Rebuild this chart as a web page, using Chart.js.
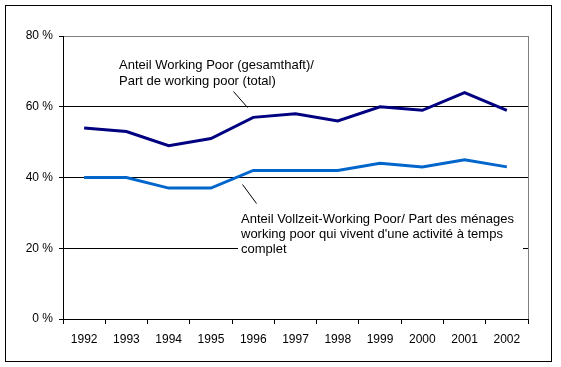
<!DOCTYPE html>
<html>
<head>
<meta charset="utf-8">
<script src="https://cdn.jsdelivr.net/npm/chart.js@4.4.1/dist/chart.umd.min.js"></script>
<style>
  html, body { margin: 0; padding: 0; background: #fff; }
  #wrap { width: 561px; height: 367px; position: relative; }
</style>
</head>
<body>
<div id="wrap"><canvas id="workingPoorChart" width="561" height="367"></canvas></div>
<script>
// Data
const years = ['1992', '1993', '1994', '1995', '1996', '1997', '1998', '1999', '2000', '2001', '2002'];
const workingPoorTotal = [54, 53, 49, 51, 57, 58, 56, 60, 59, 64, 59];
const workingPoorFullTime = [40, 40, 37, 37, 42, 42, 42, 44, 43, 45, 43];
const yTicks = [0, 20, 40, 60, 80];

const labelTotal = ['Anteil Working Poor (gesamthaft)/', 'Part de working poor (total)'];
const labelFullTime = [
  'Anteil Vollzeit-Working Poor/ Part des ménages',
  'working poor qui vivent d\'une activité à temps',
  'complet'
];

const FONT = '"Liberation Sans", Arial, sans-serif';

// outer frame + grey right edge of the plot area
const framePlugin = {
  id: 'frame',
  beforeDraw(chart) {
    const { ctx, width, height } = chart;
    ctx.save();
    ctx.fillStyle = '#fff';
    ctx.fillRect(0, 0, width, height);
    ctx.strokeStyle = '#000';
    ctx.lineWidth = 1;
    ctx.strokeRect(5.5, 5.5, 546, 356);
    ctx.restore();
  },
  beforeDatasetsDraw(chart) {
    const { ctx, chartArea } = chart;
    ctx.save();
    ctx.strokeStyle = '#808080';
    ctx.lineWidth = 1;
    ctx.beginPath();
    ctx.moveTo(Math.round(chartArea.right) + 0.5, chartArea.top);
    ctx.lineTo(Math.round(chartArea.right) + 0.5, chartArea.bottom);
    ctx.stroke();
    ctx.restore();
  }
};

// text callouts with leader lines
const calloutPlugin = {
  id: 'callouts',
  afterDatasetsDraw(chart) {
    const { ctx } = chart;
    ctx.save();
    ctx.strokeStyle = '#000';
    ctx.lineWidth = 1;

    drawLeader(ctx, 233, 91, 247, 107);
    drawLeader(ctx, 242, 184, 256, 203);

    // second label sits on a white box over the 20 % gridline
    ctx.fillStyle = '#fff';
    ctx.fillRect(238, 209, 285, 50);

    ctx.fillStyle = '#000';
    ctx.font = '13px ' + FONT;
    ctx.textBaseline = 'alphabetic';
    ctx.textAlign = 'left';
    labelTotal.forEach((line, i) => ctx.fillText(line, 119, 69 + i * 16));
    labelFullTime.forEach((line, i) => ctx.fillText(line, 241, 223 + i * 15));
    ctx.restore();
  }
};

function drawLeader(ctx, x1, y1, x2, y2) {
  ctx.beginPath();
  ctx.moveTo(x1 + 0.5, y1 + 0.5);
  ctx.lineTo(x2 + 0.5, y2 + 0.5);
  ctx.stroke();
}

function buildDatasets() {
  return [
    {
      label: labelTotal.join(' '),
      data: workingPoorTotal,
      borderColor: '#000080',
      borderWidth: 3,
      pointRadius: 0,
      tension: 0,
      fill: false
    },
    {
      label: labelFullTime.join(' '),
      data: workingPoorFullTime,
      borderColor: '#0066CC',
      borderWidth: 3,
      pointRadius: 0,
      tension: 0,
      fill: false
    }
  ];
}

function getChartOptions() {
  return {
    responsive: false,
    animation: false,
    layout: { padding: { left: 0, top: 36, right: 33, bottom: 0 } },
    plugins: {
      legend: { display: false },
      tooltip: { enabled: false }
    },
    scales: {
      x: {
        offset: true,
        afterFit: scale => { scale.height = 48; },
        border: { color: '#000', width: 1 },
        grid: {
          offset: true,
          drawOnChartArea: false,
          tickLength: 5,
          tickColor: '#000'
        },
        ticks: {
          color: '#000',
          padding: 8,
          maxRotation: 0,
          font: { family: FONT, size: 12 }
        }
      },
      y: {
        min: 0,
        max: 80,
        afterFit: scale => { scale.width = 63; },
        afterBuildTicks: scale => { scale.ticks = yTicks.map(v => ({ value: v })); },
        border: { color: '#000', width: 1 },
        grid: {
          color: c => (c.tick && c.tick.value === 80 ? '#808080' : '#000'),
          tickLength: 4,
          tickColor: '#000'
        },
        ticks: {
          color: '#000',
          padding: 6,
          font: { family: FONT, size: 12 },
          callback: v => v + ' %'
        }
      }
    }
  };
}

window.addEventListener('DOMContentLoaded', () => {
  const ctx = document.getElementById('workingPoorChart').getContext('2d');
  new Chart(ctx, {
    type: 'line',
    data: { labels: years, datasets: buildDatasets() },
    options: getChartOptions(),
    plugins: [framePlugin, calloutPlugin]
  });
});
</script>
</body>
</html>
